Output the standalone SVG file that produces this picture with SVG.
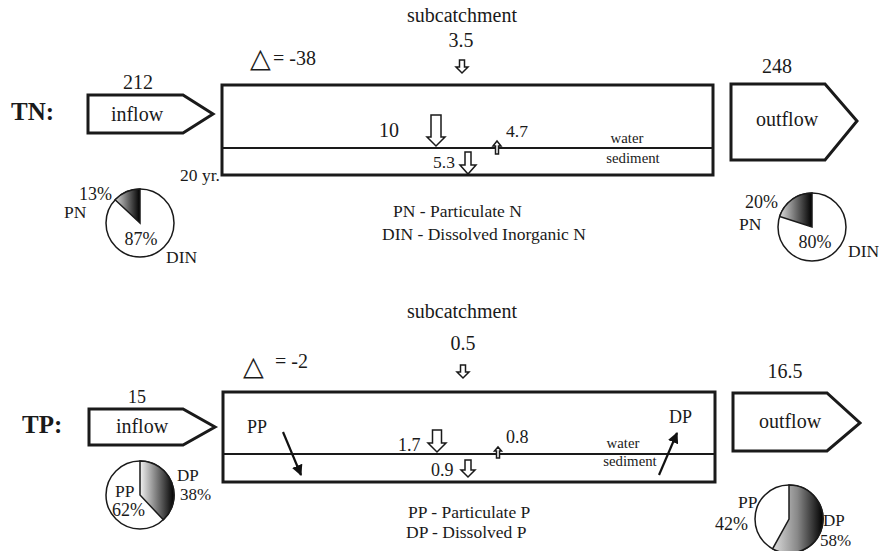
<svg xmlns="http://www.w3.org/2000/svg" width="879" height="551" viewBox="0 0 879 551">
<style>
text{font-family:"Liberation Serif","Times New Roman",serif;fill:#1a1a1a}
.t20{font-size:20px}
.t18{font-size:18px}
.t17{font-size:17.5px}
.t16{font-size:17px}
.t15{font-size:14.8px}
.lbl{font-size:25px;font-weight:bold}
.mid{text-anchor:middle}
.box{fill:none;stroke:#1a1a1a;stroke-width:3}
.div{stroke:#1a1a1a;stroke-width:1.8}
.flow{fill:#fff;stroke:#1a1a1a;stroke-width:3;stroke-linejoin:miter}
.pie{fill:#fff;stroke:#1a1a1a;stroke-width:1.5}
.blk{fill:#fff;stroke:#1a1a1a;stroke-width:1.5;stroke-linejoin:miter}
.ln{stroke:#111;stroke-width:2.2;fill:none}
.delta{font-family:"DejaVu Sans",sans-serif;font-size:27px}
</style>
<defs>
<marker id="ah" viewBox="0 0 10 10" refX="9" refY="5" markerWidth="5" markerHeight="5" orient="auto" markerUnits="strokeWidth">
<path d="M0,0 L10,5 L0,10 Z" fill="#111"/>
</marker>
<linearGradient id="gTNin" gradientUnits="userSpaceOnUse" x1="113" y1="0" x2="140" y2="0">
<stop offset="0" stop-color="#e8e8e8"/><stop offset="1" stop-color="#000"/></linearGradient>
<linearGradient id="gTNout" gradientUnits="userSpaceOnUse" x1="779" y1="0" x2="812" y2="0">
<stop offset="0" stop-color="#e0e0e0"/><stop offset="1" stop-color="#000"/></linearGradient>
<linearGradient id="gTPin" gradientUnits="userSpaceOnUse" x1="140" y1="0" x2="174" y2="0">
<stop offset="0" stop-color="#f2f2f2"/><stop offset="1" stop-color="#000"/></linearGradient>
<linearGradient id="gTPout" gradientUnits="userSpaceOnUse" x1="772" y1="0" x2="823" y2="0">
<stop offset="0" stop-color="#e0e0e0"/><stop offset="0.5" stop-color="#888"/><stop offset="1" stop-color="#000"/></linearGradient>
</defs>
<rect width="879" height="551" fill="#fff"/>

<!-- ===== TN ===== -->
<g id="tn-label"><text class="lbl" x="11" y="120">TN:</text></g>
<g id="tn-inflow">
<text class="t20 mid" x="138" y="89">212</text>
<polygon class="flow" points="88,95 183,95 213,114 183,133 88,133"/>
<text class="t20 mid" x="137" y="121">inflow</text>
</g>
<g id="tn-box">
<rect class="box" x="222" y="85" width="491" height="90"/>
<line class="div" x1="222" y1="148" x2="713" y2="148"/>
<text class="t15 mid" x="627" y="143">water</text>
<text class="t15 mid" x="633" y="163">sediment</text>
<text class="t17" x="180" y="181">20 yr.</text>
</g>
<g id="tn-delta"><text class="delta" x="250" y="67">△</text><text class="t20" x="273" y="65">= -38</text></g>
<g id="tn-subcatchment">
<text class="t20 mid" x="462" y="22">subcatchment</text>
<text class="t20 mid" x="461" y="47">3.5</text>
</g>
<g id="tn-values">
<text class="t20" x="379" y="137">10</text>
<text class="t17" x="506" y="137">4.7</text>
<text class="t17" x="433" y="168">5.3</text>
</g>
<g id="tn-outflow">
<text class="t20 mid" x="777" y="73">248</text>
<polygon class="flow" points="731,84 825,84 857,121 825,160 731,160"/>
<text class="t20 mid" x="787" y="126">outflow</text>
</g>
<g id="tn-legend">
<text class="t17" x="393" y="217">PN - Particulate N</text>
<text class="t17" x="382" y="240">DIN - Dissolved Inorganic N</text>
</g>
<g id="tn-pie-in">
<circle class="pie" cx="140" cy="223" r="34"/>
<path class="pie" style="fill:url(#gTNin)" d="M140,223 L140,189 A34,34 0 0,0 115.1,199.8 Z"/>
<text class="t18" x="79" y="200">13%</text>
<text class="t17" x="64" y="218">PN</text>
<text class="t18 mid" x="141" y="245">87%</text>
<text class="t17" x="166" y="263">DIN</text>
</g>
<g id="tn-pie-out">
<circle class="pie" cx="812" cy="227" r="34"/>
<path class="pie" style="fill:url(#gTNout)" d="M812,227 L812,193 A34,34 0 0,0 779.7,216.5 Z"/>
<text class="t18" x="745" y="208">20%</text>
<text class="t17" x="739" y="230">PN</text>
<text class="t18 mid" x="815" y="248">80%</text>
<text class="t17" x="848" y="257">DIN</text>
</g>

<!-- ===== TP ===== -->
<g id="tp-label"><text class="lbl" x="22" y="433">TP:</text></g>
<g id="tp-inflow">
<text class="t18 mid" x="137" y="403">15</text>
<polygon class="flow" points="89,409 183,409 215,427 183,445 89,445"/>
<text class="t20 mid" x="142" y="433">inflow</text>
</g>
<g id="tp-box">
<rect class="box" x="223" y="392" width="492" height="90"/>
<line class="div" x1="223" y1="454" x2="715" y2="454"/>
<text class="t15 mid" x="623" y="448">water</text>
<text class="t15 mid" x="630" y="466">sediment</text>
<text class="t18" x="247" y="433">PP</text>
<text class="t18" x="669" y="423">DP</text>
</g>
<g id="tp-delta"><text class="delta" x="243" y="375">△</text><text class="t20" x="275" y="368">= -2</text></g>
<g id="tp-subcatchment">
<text class="t20 mid" x="462" y="318">subcatchment</text>
<text class="t20 mid" x="463" y="350">0.5</text>
</g>
<g id="tp-values">
<text class="t18" x="398" y="451">1.7</text>
<text class="t18" x="506" y="443">0.8</text>
<text class="t18" x="431" y="476">0.9</text>
</g>
<g id="tp-outflow">
<text class="t20 mid" x="785" y="378">16.5</text>
<polygon class="flow" points="733,393 827,393 860,423 827,451 733,451"/>
<text class="t20 mid" x="790" y="428">outflow</text>
</g>
<g id="tp-legend">
<text class="t17" x="408" y="518">PP - Particulate P</text>
<text class="t17" x="406" y="538">DP - Dissolved P</text>
</g>
<g id="tp-pie-in">
<circle class="pie" cx="140" cy="495" r="34"/>
<path class="pie" style="fill:url(#gTPin)" d="M140,495 L140,461 A34,34 0 0,1 163.3,519.8 Z"/>
<text class="t16" x="177" y="481">DP</text>
<text class="t16" x="180" y="500">38%</text>
<text class="t17" x="115" y="497">PP</text>
<text class="t18" x="112" y="516">62%</text>
</g>
<g id="tp-pie-out">
<circle class="pie" cx="789" cy="519" r="34"/>
<path class="pie" style="fill:url(#gTPout)" d="M789,519 L789,485 A34,34 0 1,1 772.6,548.8 Z"/>
<text class="t17" x="738" y="508">PP</text>
<text class="t18" x="715" y="530">42%</text>
<text class="t16" x="823" y="526">DP</text>
<text class="t16" x="820" y="546">58%</text>
</g>

<!-- ===== connectors ===== -->
<g id="connectors">
<path class="blk" d="M459.5,60 H464.5 V67 H468 L462,73 L456,67 H459.5 Z"/>
<path class="blk" d="M431,115 H441 V137 H445 L436,146 L427,137 H431 Z"/>
<path class="blk" d="M495.5,154 H498.5 V146 H501 L497,141 L493,146 H495.5 Z"/>
<path class="blk" d="M465,152 H471 V165 H476 L468,174 L460,165 H465 Z"/>
<path class="blk" d="M460.5,365 H465.5 V372 H469 L463,378 L457,372 H460.5 Z"/>
<path class="blk" d="M432.5,430 H441.5 V443 H446 L437,452 L428,443 H432.5 Z"/>
<path class="blk" d="M496.5,458 H499.5 V451 H501.5 L498,447 L494.5,451 H496.5 Z"/>
<path class="blk" d="M465,460 H471 V470 H475 L468,477 L461,470 H465 Z"/>
<line class="ln" x1="283" y1="432" x2="301" y2="475" marker-end="url(#ah)"/>
<line class="ln" x1="659" y1="475" x2="677" y2="433" marker-end="url(#ah)"/>
</g>
</svg>
